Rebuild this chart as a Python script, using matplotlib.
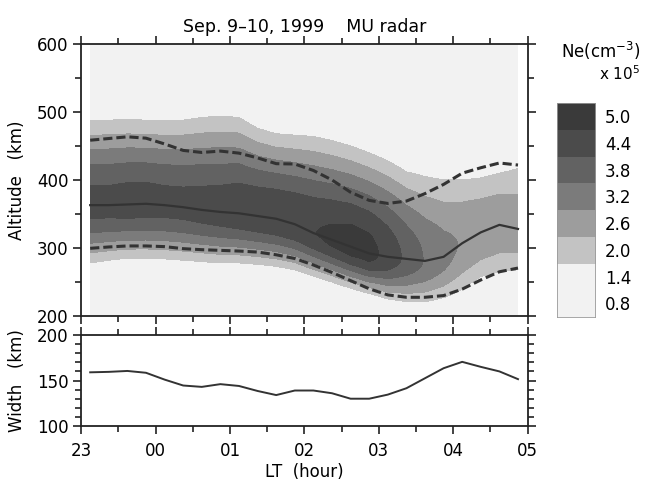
import numpy as np
import matplotlib
matplotlib.use('Agg')
import matplotlib.pyplot as plt
from matplotlib.colors import ListedColormap

plt.rcParams['font.family'] = 'DejaVu Sans'
plt.rcParams['font.size'] = 12

# time in hours after 23 LT
times = [0.12, 0.37, 0.62, 0.87, 1.12, 1.37, 1.62, 1.87, 2.12, 2.37, 2.62, 2.87,
         3.12, 3.37, 3.62, 3.87, 4.12, 4.37, 4.62, 4.87, 5.12, 5.37, 5.62, 5.87]
# peak altitude (km)
hpeak = [363, 363, 364, 365, 363, 360, 356, 353, 351, 347, 343, 335,
         322, 312, 302, 292, 287, 284, 281, 287, 307, 323, 334, 328]
# lower / upper boundary of the layer (km)
lower = [299.5, 301.5, 303, 303, 302, 299, 297.5, 296.5, 295.5, 294, 290, 284.5,
         275, 264, 252, 240, 231, 227.5, 227.5, 230, 239.5, 253, 265, 270.5]
upper = [458.5, 461, 463.5, 461.5, 453, 443.5, 440.5, 442.5, 439.5, 432.5, 424, 423.5,
         414, 400, 382, 370, 365.5, 369, 380, 393.5, 410, 418, 425, 422]
# peak density (x 1e5 cm^-3)
nmax = [4.6, 4.6, 4.65, 4.65, 4.6, 4.6, 4.65, 4.7, 4.8, 4.85, 4.9, 4.92,
        4.98, 5.12, 5.25, 5.2, 4.8, 4.25, 3.75, 3.4, 3.15, 3.05, 3.0, 2.95]
# top / bottom edge of the 2.0 x 1e5 contour (km)
edge_top = [487, 488, 489, 488, 487, 488, 492, 494, 492, 476, 468, 466,
            464, 458, 450, 440, 428, 412, 405, 400, 400, 403, 410, 417]
edge_bot = [278, 282, 285, 285, 284, 282, 280, 278, 278, 276, 273, 268,
            259, 250, 241, 233, 225, 221, 221, 227, 240, 258, 265, 268]

levels = [0, 2.0, 2.6, 3.2, 3.8, 4.4, 5.0, 20]
shades = ['#f2f2f2', '#c3c3c3', '#9d9d9d', '#7b7b7b', '#626262', '#4b4b4b', '#3a3a3a']
cb_labels = ['0.8', '1.4', '2.0', '2.6', '3.2', '3.8', '4.4', '5.0']
cb_colors = ['#f2f2f2', '#f2f2f2'] + shades[1:]

t = np.array(times)
hm = np.array(hpeak)
lo = np.array(lower)
up = np.array(upper)
nm = np.array(nmax)
width = up - lo

# gaussian-like profile that passes 2.0 at the read edges
k = np.sqrt(2 * np.log(nm / 2.0))
sig_top = (np.array(edge_top) - hm) / k
sig_bot = (hm - np.array(edge_bot)) / k
alt = np.arange(200, 601, 2)
T, H = np.meshgrid(t, alt)
sig = np.where(H < hm, sig_bot, sig_top)
ne = nm * np.exp(-0.5 * ((H - hm) / sig) ** 2)

fig = plt.figure(figsize=(6.5, 4.83), dpi=100)
ax1 = fig.add_axes([0.125, 0.3458, 0.6868, 0.5631])
ax2 = fig.add_axes([0.125, 0.118, 0.6868, 0.1884])

ax1.contourf(T, H, ne, levels=levels, colors=shades)
ax1.plot(t, hm, color='#333333', lw=1.6)
ax1.plot(t, lo, color='#333333', lw=2.2, ls=(0, (3, 1.3)))
ax1.plot(t, up, color='#333333', lw=2.2, ls=(0, (3, 1.3)))
ax1.set_xlim(0, 6)
ax1.set_ylim(200, 600)
ax1.set_yticks([200, 300, 400, 500, 600])
ax1.set_yticks([250, 350, 450, 550], minor=True)
ax1.set_ylabel('Altitude   (km)', labelpad=8)
ax1.set_title('Sep. 9\u201310, 1999    MU radar', fontsize=12.5, pad=9)

ax2.plot(t, width, color='#333333', lw=1.4)
ax2.set_xlim(0, 6)
ax2.set_ylim(100, 200)
ax2.set_yticks([100, 150, 200])
ax2.set_yticks(np.arange(110, 200, 10), minor=True)
ax2.set_ylabel('Width   (km)', labelpad=8)
ax2.set_xlabel('LT  (hour)', labelpad=2)

for ax in (ax1, ax2):
    ax.set_xticks(range(7))
    ax.set_xticks(np.arange(0.5, 6, 1), minor=True)
    ax.tick_params(which='both', direction='out', top=True, right=True,
                   width=1.2, color='#222222')
    ax.tick_params(which='major', length=5.5)
    ax.tick_params(which='minor', length=4.5)
    ax.tick_params(axis='x', pad=6)
    for s in ax.spines.values():
        s.set_linewidth(1.3)
        s.set_color('#222222')
ax1.set_xticklabels([])
ax2.set_xticklabels(['23', '00', '01', '02', '03', '04', '05'])

# colour bar
cax = fig.add_axes([0.857, 0.344, 0.0585, 0.443])
cax.imshow(np.arange(8).reshape(-1, 1), cmap=ListedColormap(cb_colors),
           origin='lower', aspect='auto', extent=[0, 1, 0, 8])
cax.set_xticks([])
cax.set_yticks(np.arange(8) + 0.5)
cax.set_yticklabels(cb_labels)
cax.yaxis.tick_right()
cax.tick_params(length=0, pad=7)
for s in cax.spines.values():
    s.set_linewidth(0.6)
    s.set_color('#999999')
fig.text(0.985, 0.895, 'Ne(cm$^{-3}$)', ha='right', va='center', fontsize=12)
fig.text(0.985, 0.848, 'x 10$^5$', ha='right', va='center', fontsize=11)

fig.savefig('out.png', dpi=100)
